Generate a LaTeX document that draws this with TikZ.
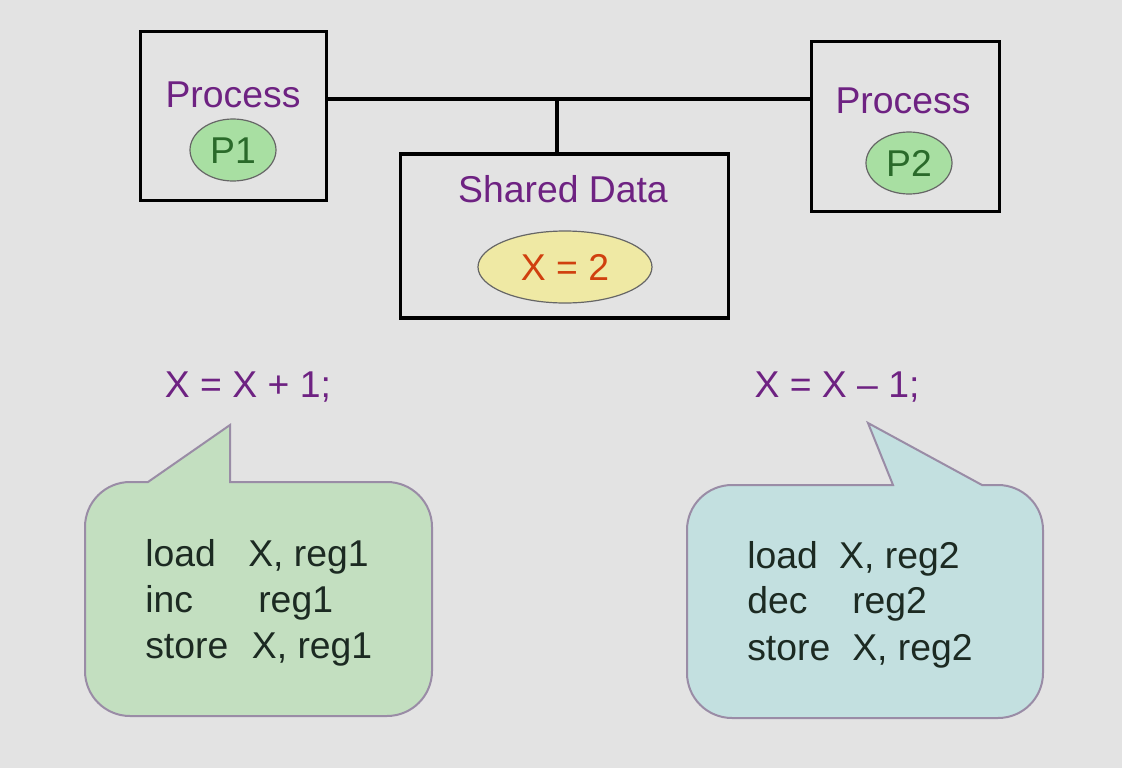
\documentclass[tikz,border=0pt]{standalone}
\usepackage{fontspec}
\setmainfont{Liberation Sans}
\usetikzlibrary{shapes.geometric}
\definecolor{bg}{HTML}{E3E3E3}
\definecolor{purp}{HTML}{6E2282}
\definecolor{pgreen}{HTML}{A8DFA2}
\definecolor{dgreen}{HTML}{2A6A2A}
\definecolor{yel}{HTML}{EFE9A4}
\definecolor{xred}{HTML}{D0400E}
\definecolor{bgreen}{HTML}{C3DFC0}
\definecolor{bblue}{HTML}{C3E0E0}
\definecolor{bedge}{HTML}{9A8CA6}
\definecolor{code}{HTML}{1C2A22}
\tikzset{
  box/.style={draw=black, line width=2.4pt, inner sep=0pt, fill=bg},
  pell/.style={ellipse, draw=black!60, line width=0.9pt, fill=pgreen, inner sep=0pt,
    minimum width=64.5pt, minimum height=46.5pt},
  lbl/.style={font=\fontsize{28}{32}\selectfont, anchor=base, inner sep=0pt},
  codeln/.style={font=\fontsize{28}{32}\selectfont, anchor=base west, inner sep=0pt, text=code},
  bubble/.style={draw=bedge, line width=1.5pt},
  link/.style={line width=2.4pt, draw=black}
}
\begin{document}
\begin{tikzpicture}[x=0.75pt,y=-0.75pt]
\fill[bg] (0,0) rectangle (1122,768);
\useasboundingbox (0,0) rectangle (1122,768);

% process boxes
\node[box, minimum width=140pt, minimum height=127pt] (p1) at (233.5,116) {};
\node[box, minimum width=140.5pt, minimum height=127pt] (p2) at (905.5,126.5) {};
\node[box, minimum width=246.5pt, minimum height=123pt] (sd) at (564.5,236) {};

% connectors
\coordinate (j) at (557,99);
\draw[link] (j -| p1.east) -- (j -| p2.west);
\draw[link] (j) -- (j |- sd.north);

% texts in boxes
\node[lbl, text=purp] (t1) at (233,107) {Process};
\node[pell] (e1) at (233,150) {};
\node[lbl, text=dgreen] (n1) at (233,163) {P1};
\node[lbl, text=purp] (t2) at (903,113) {Process};
\node[pell] (e2) at (909,163) {};
\node[lbl, text=dgreen] (n2) at (909,176.5) {P2};
\node[lbl, text=purp] (t3) at (563,202.5) {Shared Data};
\node[ellipse, draw=black!60, line width=0.9pt, fill=yel, inner sep=0pt,
  minimum width=130.5pt, minimum height=54pt] (ex) at (565,267) {};
\node[lbl, text=xred] (xv) at (565,280) {X = 2};

% statements
\node[lbl, text=purp] (s1) at (248,397) {X = X + 1;};
\node[lbl, text=purp] (s2) at (837,397) {X = X {\char"2013} 1;};

% left bubble
\draw[bubble, fill=bgreen] (148,482) -- (230,425) -- (230,482) -- (387,482)
  .. controls (411.85,482) and (432,502.15) .. (432,527) -- (432,671)
  .. controls (432,695.85) and (411.85,716) .. (387,716) -- (130,716)
  .. controls (105.15,716) and (85,695.85) .. (85,671) -- (85,527)
  .. controls (85,502.15) and (105.15,482) .. (130,482) -- cycle;

% right bubble
\draw[bubble, fill=bblue] (893,485) -- (868,423) -- (982,485) -- (998,485)
  .. controls (1022.85,485) and (1043,505.15) .. (1043,530) -- (1043,673)
  .. controls (1043,697.85) and (1022.85,718) .. (998,718) -- (732,718)
  .. controls (707.15,718) and (687,697.85) .. (687,673) -- (687,530)
  .. controls (687,505.15) and (707.15,485) .. (732,485) -- cycle;

% code lines
\node[codeln] (l1) at (145,566) {\makebox[77.3pt][l]{load}X, reg1};
\node[codeln] (l2) at (145,612) {\makebox[84.8pt][l]{inc}reg1};
\node[codeln] (l3) at (145,658) {\makebox[80pt][l]{store}X, reg1};
\node[codeln] (r1) at (747,568) {\makebox[69pt][l]{load}X, reg2};
\node[codeln] (r2) at (747,613) {\makebox[78.8pt][l]{dec}reg2};
\node[codeln] (r3) at (747,660) {\makebox[78.8pt][l]{store}X, reg2};
\end{tikzpicture}
\end{document}
